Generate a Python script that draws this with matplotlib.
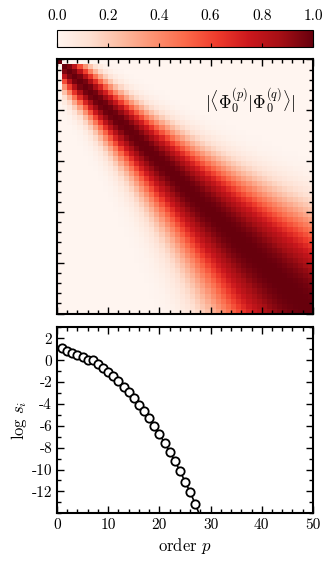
import numpy as np
import matplotlib
matplotlib.use('Agg')
import matplotlib.pyplot as plt
from matplotlib.ticker import MultipleLocator, FormatStrFormatter

plt.rcParams['font.family'] = 'serif'
plt.rcParams['font.serif'] = ['cmr10']
plt.rcParams['mathtext.fontset'] = 'cm'
plt.rcParams['axes.unicode_minus'] = False
plt.rcParams['axes.formatter.use_mathtext'] = False

# overlap matrix: distance |p-q| where the overlap drops to 0.5, per order
band_halfwidth = [0.05, 3.1, 3.3, 3.5, 3.6, 3.8, 4.0, 4.2, 4.4, 4.6,
                  4.8, 5.0, 5.3, 5.5, 5.7, 6.0, 6.3, 6.5, 6.8, 7.1,
                  7.4, 7.7, 8.0, 8.3, 8.7, 9.0, 9.3, 9.7, 10.1, 10.4,
                  10.8, 11.2, 11.6, 12.0, 12.4, 12.8, 13.2, 13.7, 14.1, 14.5,
                  15.0, 15.5, 15.9, 16.4, 16.9, 17.4, 17.9, 18.4, 18.9, 19.5]
band_sharpness = 2.2

# singular values
order_p = [1, 2, 3, 4, 5, 6, 7, 8, 9, 10,
           11, 12, 13, 14, 15, 16, 17, 18, 19, 20,
           21, 22, 23, 24, 25, 26, 27, 28, 29]
log_s = [1.16, 0.88, 0.70, 0.49, 0.25, 0.02, 0.05, -0.30, -0.67, -1.05,
         -1.48, -1.93, -2.45, -2.95, -3.50, -4.07, -4.65, -5.30, -6.00, -6.76,
         -7.55, -8.35, -9.20, -10.10, -11.10, -12.05, -13.15, -14.3, -15.5]

w = np.array(band_halfwidth)
idx = np.arange(len(w))
dist = np.abs(idx[:, None] - idx[None, :])
wpq = np.sqrt(w[:, None] * w[None, :])
overlap = np.exp(-np.log(2) * (dist / wpq) ** band_sharpness)

fig = plt.figure(figsize=(3.32, 5.65), dpi=100)

ax1 = fig.add_axes([0.1717, 0.4451, 0.771, 0.4496])
cax = fig.add_axes([0.1717, 0.917, 0.771, 0.030])
ax2 = fig.add_axes([0.1717, 0.0915, 0.771, 0.329])

n = len(w)
im = ax1.imshow(overlap, cmap='Reds', vmin=0, vmax=1, extent=[0, n, n, 0],
                aspect='auto', interpolation='nearest')
ax1.set_xlim(0, n)
ax1.set_ylim(n, 0)
ax1.xaxis.set_major_locator(MultipleLocator(10))
ax1.xaxis.set_minor_locator(MultipleLocator(2))
ax1.yaxis.set_major_locator(MultipleLocator(10))
ax1.yaxis.set_minor_locator(MultipleLocator(2))
ax1.tick_params(which='both', direction='in', top=True, right=True,
                labelbottom=False, labelleft=False, width=1.0)
ax1.tick_params(which='major', length=5)
ax1.tick_params(which='minor', length=3)
ax1.text(0.755, 0.835, r'$|\langle\Phi_0^{(p)}|\Phi_0^{(q)}\rangle|$',
         transform=ax1.transAxes, ha='center', va='center', fontsize=12.5)

cb = fig.colorbar(im, cax=cax, orientation='horizontal')
cb.set_ticks([0.0, 0.2, 0.4, 0.6, 0.8, 1.0])
cb.outline.set_linewidth(0.8)
cax.xaxis.set_major_formatter(FormatStrFormatter('%.1f'))
cax.xaxis.set_ticks_position('bottom')
cax.tick_params(labeltop=True, labelbottom=False, direction='in',
                length=3, width=0.8, labelsize=11, pad=5)

ax2.plot(order_p, log_s, '-', color='k', lw=1.2, marker='o',
         mfc='white', mec='k', ms=6, mew=1.3)
ax2.set_xlim(0, 50)
ax2.set_ylim(-14, 3)
ax2.xaxis.set_major_locator(MultipleLocator(10))
ax2.xaxis.set_minor_locator(MultipleLocator(2))
ax2.yaxis.set_major_locator(MultipleLocator(2))
ax2.yaxis.set_minor_locator(MultipleLocator(1))
ax2.set_yticks([-12, -10, -8, -6, -4, -2, 0, 2])
ax2.tick_params(which='both', direction='in', top=True, right=True,
                labelsize=11, width=1.0)
ax2.tick_params(which='major', length=5)
ax2.tick_params(which='minor', length=3)
ax2.set_xlabel('order $p$', fontsize=12, labelpad=3)
ax2.set_ylabel(r'$\log\,s_i$', fontsize=12, labelpad=2)

for a in (ax1, ax2):
    for s in a.spines.values():
        s.set_linewidth(1.5)

fig.savefig('out.png', dpi=100)
